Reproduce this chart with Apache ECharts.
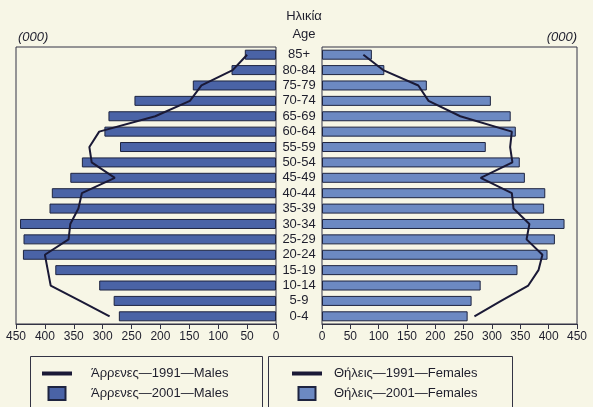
<!DOCTYPE html>
<html>
<head>
<meta charset="utf-8">
<script src="https://cdn.jsdelivr.net/npm/echarts@6/dist/echarts.min.js"></script>
<style>
html,body{margin:0;padding:0;background:#f7f6e6;}
#c{width:593px;height:407px;}
</style>
</head>
<body>
<div id="c"></div>
<script>
const categories = ['0-4','5-9','10-14','15-19','20-24','25-29','30-34','35-39','40-44','45-49','50-54','55-59','60-64','65-69','70-74','75-79','80-84','85+'];
const males2001 = [272,281,306,382,438,437,443,392,388,356,336,270,297,290,245,144,77,54];
const males1991 = [288,339,390,395,400,359,356,342,336,279,319,323,306,209,149,129,75,50];
const females2001 = [257,264,280,345,398,411,428,392,394,358,349,289,342,333,298,185,110,88];
const females1991 = [269,316,364,382,389,361,366,338,335,280,336,332,335,244,188,170,108,73];
const xTicks = {min:0, max:450, interval:50};
const names = {
  m91:'Άρρενες—1991—Males', m01:'Άρρενες—2001—Males',
  f91:'Θήλεις—1991—Females', f01:'Θήλεις—2001—Females'
};

const FONT = 'Liberation Sans, Arial, sans-serif';
const ink = '#1e1e2c';
const chart = echarts.init(document.getElementById('c'), null, {renderer:'canvas'});

function xAxis(grid, inverse){
  return {
    type:'value', gridIndex:grid, inverse:inverse, min:xTicks.min, max:xTicks.max, interval:xTicks.interval,
    position:'bottom',
    axisLine:{show:true, lineStyle:{color:'#333344', width:1}},
    axisTick:{show:true, length:5, lineStyle:{color:'#333344'}},
    splitLine:{show:false},
    axisLabel:{fontSize:12, color:ink, fontFamily:FONT, margin:7}
  };
}
const LINE_ICON = 'path://M0,0H30V4H0Z';
const SQ_ICON = 'path://M0,0H17V13H0Z';
function legend(left, items, pad){
  return {
    orient:'vertical', left:left, top:367, padding:0, height:60,
    itemWidth:30, itemHeight:13, itemGap:6, symbolKeepAspect:true,
    data:[{name:items[0], icon:LINE_ICON}, {name:items[1], icon:SQ_ICON}],
    formatter:n=>'{a|'+n+'}',
    textStyle:{fontSize:13, color:ink, fontFamily:FONT,
      rich:{a:{fontSize:13, color:ink, fontFamily:FONT, padding:[0,0,0,pad]}}}
  };
}

chart.setOption({
  backgroundColor:'#f7f6e6',
  animation:false,
  title:{
    text:'Ηλικία\nAge', left:299, top:2, textAlign:'center',
    textStyle:{fontSize:13, fontWeight:'normal', color:ink, fontFamily:FONT, lineHeight:18}
  },
  grid:[
    {left:16, top:47, width:260, height:277, show:true, borderColor:'#333344', borderWidth:1, backgroundColor:'transparent'},
    {left:322, top:47, width:255, height:277, show:true, borderColor:'#333344', borderWidth:1, backgroundColor:'transparent'}
  ],
  xAxis:[xAxis(0,true), xAxis(1,false)],
  yAxis:[
    {type:'category', gridIndex:0, data:categories, position:'right',
     axisLine:{show:false}, axisTick:{show:false}, axisLabel:{show:false}},
    {type:'category', gridIndex:1, data:categories, position:'left',
     axisLine:{show:false}, axisTick:{show:false},
     axisLabel:{show:true, interval:0, align:'center', margin:23, fontSize:13, color:ink, fontFamily:FONT}}
  ],
  legend:[legend(42, [names.m91, names.m01], 14), legend(292, [names.f91, names.f01], 7)],
  graphic:[
    {type:'text', left:18, top:31, style:{text:'(000)', font:'italic 13px '+FONT, fill:ink}},
    {type:'text', right:16, top:31, style:{text:'(000)', font:'italic 13px '+FONT, fill:ink}},
    {type:'rect', shape:{x:30.5, y:356.5, width:232, height:70}, style:{fill:'none', stroke:'#333344', lineWidth:1}, z:-1},
    {type:'rect', shape:{x:268.5, y:356.5, width:244, height:70}, style:{fill:'none', stroke:'#333344', lineWidth:1}, z:-1}
  ],
  series:[
    {name:names.m01, type:'bar', xAxisIndex:0, yAxisIndex:0, data:males2001, barWidth:10,
     itemStyle:{color:'#4a63a6', borderColor:'#1e2440', borderWidth:1}},
    {name:names.m91, type:'line', xAxisIndex:0, yAxisIndex:0, data:males1991, symbol:'none', z:5,
     lineStyle:{color:'#1a1936', width:2}, itemStyle:{color:'#1a1936'}},
    {name:names.f01, type:'bar', xAxisIndex:1, yAxisIndex:1, data:females2001, barWidth:10,
     itemStyle:{color:'#6c89c2', borderColor:'#1e2440', borderWidth:1}},
    {name:names.f91, type:'line', xAxisIndex:1, yAxisIndex:1, data:females1991, symbol:'none', z:5,
     lineStyle:{color:'#1a1936', width:2}, itemStyle:{color:'#1a1936'}}
  ]
});
</script>
</body>
</html>
